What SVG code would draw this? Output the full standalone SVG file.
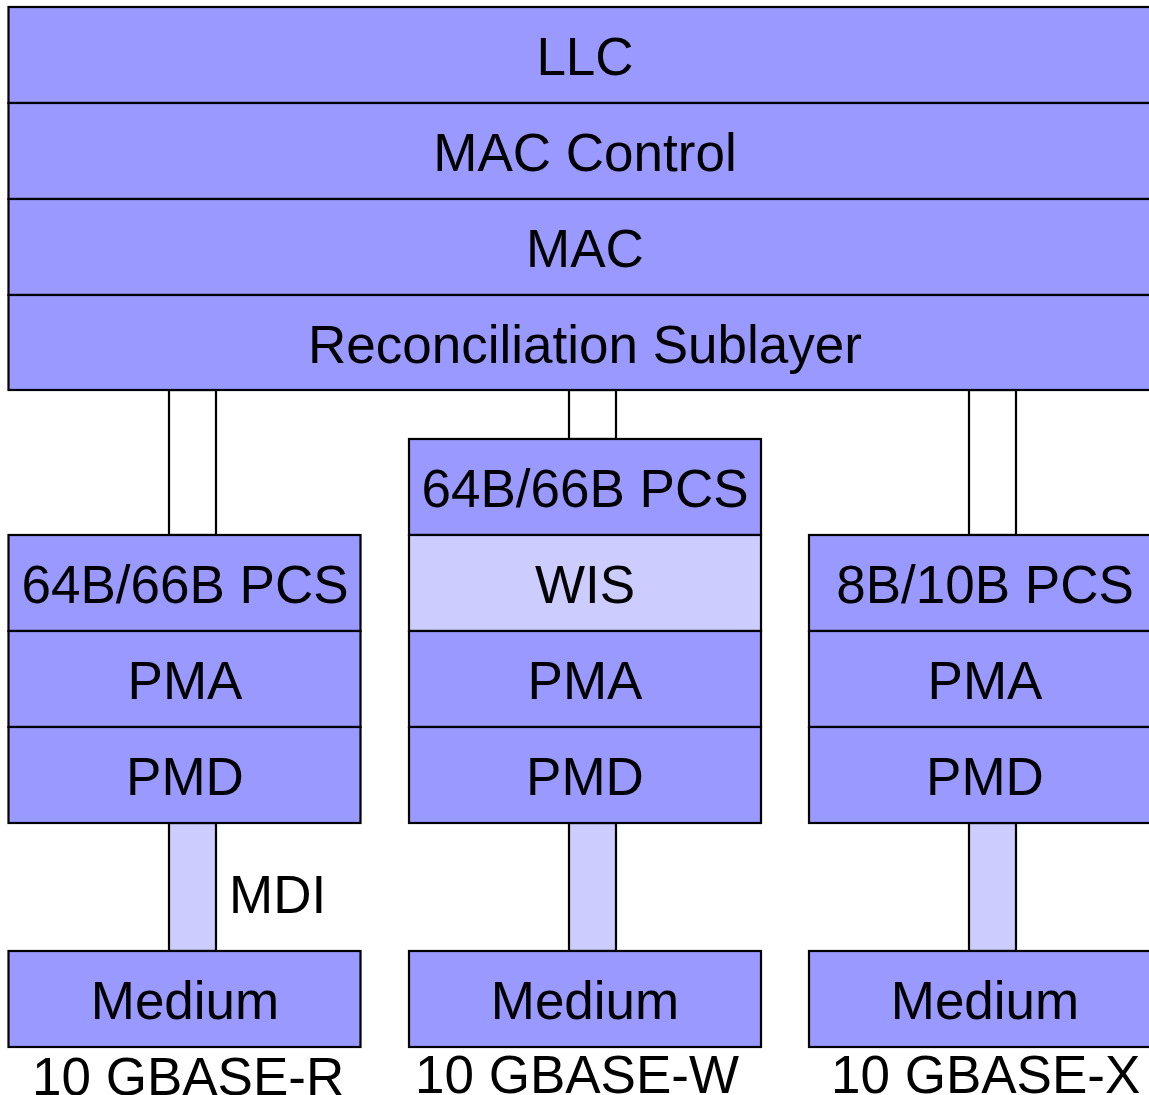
<svg xmlns="http://www.w3.org/2000/svg" width="1149" height="1095" viewBox="0 0 1149 1095">
<style>
.b{fill:#9999ff;stroke:#000;stroke-width:2.2}
.l{fill:#ccccff;stroke:#000;stroke-width:2.2}
.w{fill:#fff;stroke:#000;stroke-width:2.2}
text{font-family:"Liberation Sans",Arial,sans-serif;font-size:53px;fill:#000}
.c{text-anchor:middle}
</style>
<rect width="1149" height="1095" fill="#fff"/>
<g id="connectors">
<rect class="w" x="169" y="390" width="47" height="145"/>
<rect class="w" x="569" y="390" width="47" height="49"/>
<rect class="w" x="969" y="390" width="47" height="145"/>
<rect class="l" x="169" y="823" width="47" height="128"/>
<rect class="l" x="569" y="823" width="47" height="128"/>
<rect class="l" x="969" y="823" width="47" height="128"/>
</g>
<g id="llc"><rect class="b" x="8.5" y="7" width="1153" height="96"/><text class="c" x="585" y="75">LLC</text></g>
<g id="mac-control"><rect class="b" x="8.5" y="103" width="1153" height="96"/><text class="c" x="585" y="171">MAC Control</text></g>
<g id="mac"><rect class="b" x="8.5" y="199" width="1153" height="96"/><text class="c" x="585" y="267">MAC</text></g>
<g id="rs"><rect class="b" x="8.5" y="295" width="1153" height="95"/><text class="c" x="585" y="363">Reconciliation Sublayer</text></g>

<g id="r-pcs"><rect class="b" x="8.5" y="535" width="352" height="96"/><text class="c" x="185" y="603">64B/66B PCS</text></g>
<g id="r-pma"><rect class="b" x="8.5" y="631" width="352" height="96"/><text class="c" x="185" y="699">PMA</text></g>
<g id="r-pmd"><rect class="b" x="8.5" y="727" width="352" height="96"/><text class="c" x="185" y="795">PMD</text></g>
<g id="r-medium"><rect class="b" x="8.5" y="951" width="352" height="96"/><text class="c" x="185" y="1019">Medium</text></g>

<g id="w-pcs"><rect class="b" x="409" y="439" width="352" height="96"/><text class="c" x="585" y="507">64B/66B PCS</text></g>
<g id="w-wis"><rect class="l" x="409" y="535" width="352" height="96"/><text class="c" x="585" y="603">WIS</text></g>
<g id="w-pma"><rect class="b" x="409" y="631" width="352" height="96"/><text class="c" x="585" y="699">PMA</text></g>
<g id="w-pmd"><rect class="b" x="409" y="727" width="352" height="96"/><text class="c" x="585" y="795">PMD</text></g>
<g id="w-medium"><rect class="b" x="409" y="951" width="352" height="96"/><text class="c" x="585" y="1019">Medium</text></g>

<g id="x-pcs"><rect class="b" x="809" y="535" width="352" height="96"/><text class="c" x="985" y="603">8B/10B PCS</text></g>
<g id="x-pma"><rect class="b" x="809" y="631" width="352" height="96"/><text class="c" x="985" y="699">PMA</text></g>
<g id="x-pmd"><rect class="b" x="809" y="727" width="352" height="96"/><text class="c" x="985" y="795">PMD</text></g>
<g id="x-medium"><rect class="b" x="809" y="951" width="352" height="96"/><text class="c" x="985" y="1019">Medium</text></g>

<text x="229" y="913">MDI</text>
<text x="32" y="1095">10 GBASE-R</text>
<text x="415" y="1093">10 GBASE-W</text>
<text x="831" y="1093">10 GBASE-X</text>
</svg>
